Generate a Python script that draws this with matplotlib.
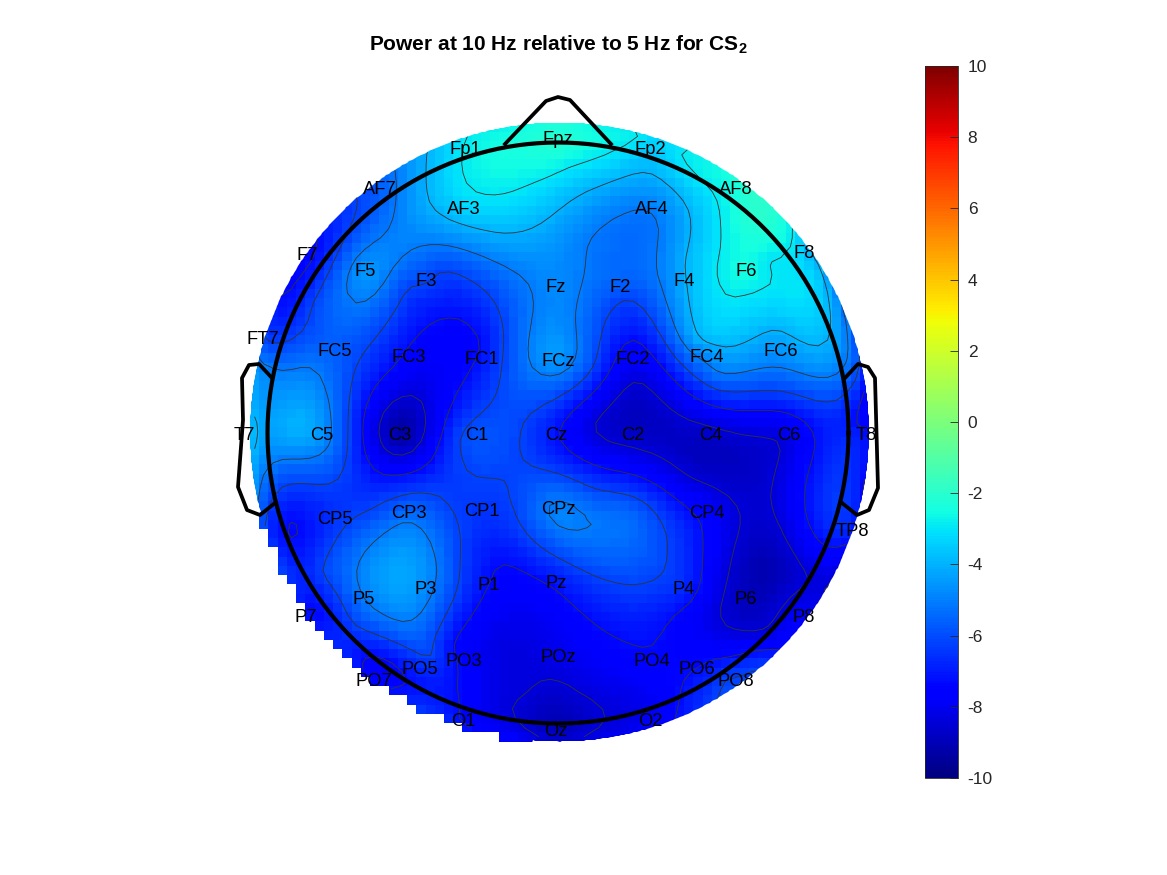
import numpy as np
import matplotlib
matplotlib.use("Agg")
import matplotlib.pyplot as plt
from matplotlib.path import Path
from matplotlib.patches import PathPatch

plt.rcParams['font.family'] = ['Liberation Sans', 'DejaVu Sans']
plt.rcParams['axes.unicode_minus'] = False
plt.rcParams['mathtext.fontset'] = 'custom'
plt.rcParams['mathtext.bf'] = 'Liberation Sans:bold'

# channels, positions in image pixels, values
labels = ['Fp1', 'Fpz', 'Fp2', 'AF7', 'AF3', 'AF4', 'AF8',
          'F7', 'F5', 'F3', 'Fz', 'F2', 'F4', 'F6', 'F8',
          'FT7', 'FC5', 'FC3', 'FC1', 'FCz', 'FC2', 'FC4', 'FC6',
          'T7', 'C5', 'C3', 'C1', 'Cz', 'C2', 'C4', 'C6', 'T8',
          'CP5', 'CP3', 'CP1', 'CPz', 'CP4', 'TP8',
          'P7', 'P5', 'P3', 'P1', 'Pz', 'P4', 'P6', 'P8',
          'PO7', 'PO5', 'PO3', 'POz', 'PO4', 'PO6', 'PO8',
          'O1', 'Oz', 'O2']
chan_x = [465, 558, 650, 380, 464, 652, 736,
          307, 365, 426, 556, 620, 684, 746, 804,
          263, 335, 409, 482, 558, 633, 707, 781,
          244, 322, 400, 477, 556, 633, 711, 789, 866,
          335, 409, 482, 558, 707, 852,
          306, 364, 426, 489, 556, 684, 746, 804,
          374, 420, 464, 558, 652, 697, 736,
          463, 556, 650]
chan_y = [149, 139, 149, 188, 208, 208, 188,
          254, 271, 281, 287, 286, 281, 271, 253,
          339, 351, 357, 359, 360, 359, 357, 351,
          434, 435, 435, 435, 435, 435, 435, 435, 434,
          519, 513, 510, 509, 513, 531,
          616, 598, 589, 584, 582, 589, 598, 617,
          681, 668, 661, 657, 661, 668, 681,
          721, 731, 721]
chan_val = [-2.9, -2.1, -3.5, -5.65, -3.4, -5.0, -2.4,
            -7.5, -4.55, -6.1, -4.8, -5.65, -4.1, -2.5, -3.5,
            -6.1, -5.65, -7.5, -7.1, -4.55, -7.8, -4.8, -4.55,
            -3.1, -4.65, -9.25, -5.9, -7.2, -8.7, -8.7, -8.15, -7.3,
            -6.5, -5.4, -6.5, -4.9, -7.6, -7.0,
            -7.1, -5.1, -4.8, -7.3, -7.1, -6.75, -8.9, -7.8,
            -7.5, -6.75, -7.5, -8.15, -7.4, -7.3, -6.1,
            -7.4, -8.9, -7.95]

# channels without a label in the figure, and points
hidden_x = [633, 781, 266,
            520, 497, 570, 500, 580, 430, 590,
            687, 685, 702, 777, 720, 745, 770,
            658, 657, 683, 720, 845,
            625, 593, 735, 633, 733, 857,
            634, 595, 780, 740, 808, 763, 720, 690, 765,
            690, 703, 677, 600, 500, 453, 460,
            593, 667, 617, 517, 507, 520,
            323, 370, 413, 450, 460, 430, 353,
            360, 405, 437, 403, 405,
            348, 353, 410, 440, 503, 460,
            400, 393, 447, 480, 443,
            307, 300, 330, 337, 495,
            683, 793, 760, 822, 640, 860,
            427, 395, 357, 317, 467, 313, 280,
            347, 360, 407, 427, 530, 530, 548, 577,
            730, 783, 730, 760,
            522, 530, 580, 600,
            250, 250, 270, 257]
hidden_y = [510, 519, 531,
            160, 195, 167, 233, 195, 203, 240,
            207, 263, 340, 330, 250, 295, 260,
            223, 257, 343, 373, 317,
            300, 367, 392, 340, 410, 423,
            382, 425, 453, 520, 577, 630, 610, 477, 565,
            510, 553, 613, 628, 565, 647, 707,
            488, 557, 583, 517, 483, 440,
            573, 510, 493, 507, 560, 657, 623,
            590, 522, 570, 622, 565,
            423, 377, 287, 272, 353, 437,
            475, 367, 318, 347, 430,
            367, 428, 443, 480, 664,
            148, 230, 170, 272, 132, 363,
            153, 170, 197, 237, 137, 303, 293,
            280, 303, 253, 245, 287, 363, 376, 340,
            657, 650, 677, 670,
            697, 690, 693, 707,
            400, 473, 367, 508]
hidden_val = [-5.65, -8.3, -6.3,
              -2.5, -2.95, -2.95, -4.0, -4.0, -4.0, -5.1,
              -4.0, -4.0, -4.0, -4.0, -2.95, -2.95, -2.95,
              -5.1, -5.1, -5.1, -5.1, -5.1,
              -6.2, -6.2, -6.2, -7.3, -7.3, -7.3,
              -8.4, -8.4, -8.4, -8.4, -8.4, -8.4, -8.4, -8.4, -9.1,
              -7.3, -7.3, -7.3, -7.3, -7.3, -7.3, -7.3,
              -6.2, -6.2, -6.2, -6.2, -6.2, -6.2,
              -6.2, -6.2, -6.2, -6.2, -6.2, -6.2, -6.2,
              -5.1, -5.1, -5.1, -5.1, -4.3,
              -6.2, -6.2, -6.2, -6.2, -6.2, -6.2,
              -7.3, -7.3, -7.3, -7.3, -7.3,
              -5.1, -4.0, -5.1, -6.2, -8.2,
              -2.95, -2.95, -2.2, -4.0, -2.95, -6.2,
              -4.0, -5.1, -6.2, -7.3, -2.95, -6.2, -7.3,
              -5.1, -5.1, -5.1, -5.1, -5.1, -5.1, -5.1, -5.1,
              -7.3, -7.3, -6.2, -6.2,
              -8.4, -8.4, -8.4, -8.4,
              -4.0, -4.0, -5.1, -5.1]

contour_levels = [-8.4, -7.3, -6.2, -5.1, -4.0, -2.95]
cbar_ticks = [-10, -8, -6, -4, -2, 0, 2, 4, 6, 8, 10]

# head outline
nose_x = [505, 546, 558, 570, 611]
nose_y = [144, 101, 97, 100, 144]
ear_l_x = [272, 259, 249, 242, 243, 238, 247, 260, 275]
ear_l_y = [378, 364, 365, 378, 420, 487, 510, 515, 503]
ear_r_x = [845, 858, 868, 875, 878, 869, 857, 842]
ear_r_y = [378, 364, 367, 378, 488, 510, 515, 503]


def biharmonic(px, py, pv, qx, qy):
    # griddata 'v4' style surface
    px, py, pv = np.array(px, float), np.array(py, float), np.array(pv, float)
    d = np.hypot(px[:, None] - px[None, :], py[:, None] - py[None, :]) / 300
    g = np.zeros_like(d)
    g[d > 0] = d[d > 0]**2 * (np.log(d[d > 0]) - 1)
    w = np.linalg.solve(g, pv)
    dq = np.hypot(qx[..., None] - px, qy[..., None] - py) / 300
    dq[dq == 0] = 1e-9
    return (dq**2 * (np.log(dq) - 1) * w).sum(axis=-1)


cx, cy, blob_r = 559.5, 432.0, 309.5
head_cx, head_cy, head_r = 558.0, 433.0, 290.5

fig = plt.figure(figsize=(11.67, 8.75), dpi=100)
ax = fig.add_axes([0, 0, 1, 1])
ax.set_xlim(0, 1167)
ax.set_ylim(875, 0)
ax.axis('off')

edges = np.linspace(cx - blob_r, cx + blob_r, 68)
edges_y = np.linspace(cy - blob_r, cy + blob_r, 68)
gx, gy = np.meshgrid(0.5 * (edges[:-1] + edges[1:]), 0.5 * (edges_y[:-1] + edges_y[1:]))
z = biharmonic(chan_x + hidden_x, chan_y + hidden_y, chan_val + hidden_val, gx, gy)
z = np.clip(z, -9.6, -2.0)

# lower left rim keeps its staircase, the rest is cut by the circle
dist = np.hypot(gx - cx, gy - cy)
ang = np.degrees(np.arctan2(gy - cy, cx - gx)) % 360
stairs = (ang > 15) & (ang < 85)
mask = (dist > blob_r + 6) | (stairs & (dist > blob_r + 1))
zm = np.ma.masked_where(mask, z)

theta = np.radians(np.arange(0, 360.5, 0.5))
rim = np.full_like(theta, blob_r)
rim[(np.degrees(theta) > 95) & (np.degrees(theta) < 165)] = blob_r + 12
clip = Path(np.column_stack([cx + rim * np.cos(theta), cy + rim * np.sin(theta)]))
clip_patch = PathPatch(clip, transform=ax.transData, fc='none', ec='none')
ax.add_patch(clip_patch)

mesh = ax.pcolormesh(edges, edges_y, zm, cmap='jet', vmin=-10, vmax=10, shading='flat')
mesh.set_clip_path(clip_patch)
cs = ax.contour(gx, gy, zm, levels=contour_levels, colors='#333333', linewidths=0.6,
                linestyles='solid')
cs.set_clip_path(clip_patch)

t = np.linspace(0, 2 * np.pi, 361)
ax.plot(head_cx + head_r * np.cos(t), head_cy + head_r * np.sin(t), color='k', lw=3.0)
ax.plot(nose_x, nose_y, color='k', lw=2.7, solid_joinstyle='round')
ax.plot(ear_l_x, ear_l_y, color='k', lw=2.7)
ax.plot(ear_r_x, ear_r_y, color='k', lw=2.7)

for name, x, y in zip(labels, chan_x, chan_y):
    ax.text(x, y + 1, name, fontsize=13.2, ha='center', va='center', color='k')

ax.text(558, 45, r'Power at 10 Hz relative to 5 Hz for CS$_{\mathbf{2}}$',
        fontsize=15, fontweight='bold', ha='center', va='center', color='k')

cax = fig.add_axes([925 / 1167, 1 - 778 / 875, 33 / 1167, 712 / 875])
cb = fig.colorbar(mesh, cax=cax)
cb.set_ticks(cbar_ticks)
cb.ax.tick_params(direction='in', length=5.5, width=0.6, color='#262626',
                  labelcolor='#262626', labelsize=12.5, pad=7)
cb.outline.set_edgecolor('#262626')
cb.outline.set_linewidth(0.6)

fig.savefig('out.png', dpi=100)
